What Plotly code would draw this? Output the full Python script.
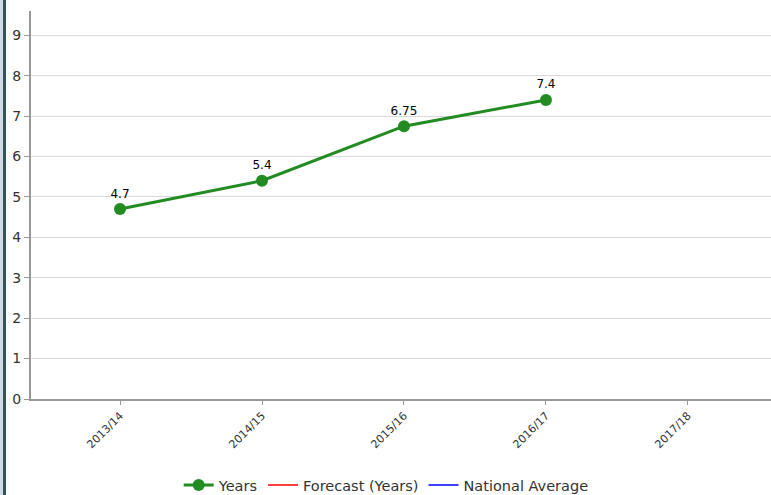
import plotly.graph_objects as go

# Academic years on the category axis
years = ["2013/14", "2014/15", "2015/16", "2016/17", "2017/18"]
# Observed values (last year has no data yet)
years_values = [4.7, 5.4, 6.75, 7.4, None]
value_labels = ["4.7", "5.4", "6.75", "7.4", ""]
y_ticks = [0, 1, 2, 3, 4, 5, 6, 7, 8, 9]

xpos = list(range(len(years)))

fig = go.Figure()
fig.add_trace(go.Scatter(
    x=xpos, y=years_values, name="Years",
    mode="lines+markers+text",
    line=dict(color="#228b22", width=3),
    marker=dict(color="#228b22", size=12),
    text=value_labels, textposition="top center",
    textfont=dict(family="DejaVu Sans", size=12, color="#000000"),
    cliponaxis=False,
))
fig.add_trace(go.Scatter(
    x=[None], y=[None], name="Forecast (Years)", mode="lines",
    line=dict(color="#ff0000", width=1.5),
))
fig.add_trace(go.Scatter(
    x=[None], y=[None], name="National Average", mode="lines",
    line=dict(color="#0000ff", width=1.5),
))

fig.update_layout(
    width=771, height=495,
    margin=dict(l=31, r=0, t=11, b=96, autoexpand=False),
    paper_bgcolor="#ffffff", plot_bgcolor="#ffffff",
    font=dict(family="DejaVu Sans", color="#333333"),
    showlegend=True,
    legend=dict(
        orientation="h", x=0.48, xanchor="center",
        yref="container", y=0.02, yanchor="middle",
        font=dict(size=14.5, color="#333333"), itemwidth=30,
        tracegroupgap=0,
    ),
    xaxis=dict(
        tickmode="array", tickvals=xpos, ticktext=years,
        range=[-0.627, 4.585], tickangle=-45,
        tickfont=dict(size=11, color="#333333"),
        showgrid=False, zeroline=False, automargin=False,
        showline=True, linecolor="#999999", linewidth=2,
        ticks="outside", ticklen=4, tickcolor="#999999",
    ),
    yaxis=dict(
        tickmode="array", tickvals=y_ticks,
        range=[0, 9.6], automargin=False,
        tickfont=dict(size=14, color="#333333"),
        showgrid=True, gridcolor="#d9d9d9", gridwidth=1,
        zeroline=False,
        showline=True, linecolor="#999999", linewidth=2,
        ticks="outside", ticklen=5, tickcolor="#999999",
    ),
    shapes=[
        dict(type="rect", xref="paper", yref="paper", xsizemode="pixel", ysizemode="pixel",
             xanchor=0, yanchor=0, x0=-31, x1=-28, y0=-100, y1=420,
             fillcolor="#d5dbe6", line=dict(width=0), layer="above"),
        dict(type="rect", xref="paper", yref="paper", xsizemode="pixel", ysizemode="pixel",
             xanchor=0, yanchor=0, x0=-28, x1=-25, y0=-100, y1=420,
             fillcolor="#2f5558", line=dict(width=0), layer="above"),
    ],
)

fig.write_html("out.html")
